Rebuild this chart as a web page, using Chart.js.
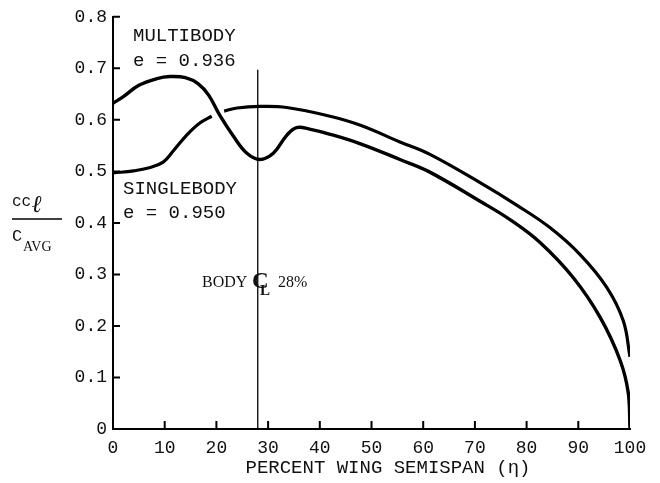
<!DOCTYPE html>
<html>
<head>
<meta charset="utf-8">
<script src="https://cdn.jsdelivr.net/npm/chart.js@4.4.1/dist/chart.umd.min.js"></script>
<style>
  html, body { margin: 0; padding: 0; background: #fff; }
  canvas { display: block; }
</style>
</head>
<body>
<canvas id="span" width="660" height="483"></canvas>
<script>
// spanwise loading
var multiX = [0, 2, 5, 8.5, 11, 14, 16.5, 18.5, 20.7, 23.3, 25.9, 28.4, 31, 33.6, 35.5, 38, 42, 48, 55.5, 61, 71, 77, 82.6, 89, 94.2, 98.1, 99.7, 100];
var multiY = [0.632, 0.645, 0.667, 0.680, 0.684, 0.682, 0.670, 0.648, 0.608, 0.568, 0.535, 0.523, 0.535, 0.570, 0.585, 0.582, 0.572, 0.553, 0.523, 0.500, 0.442, 0.405, 0.362, 0.294, 0.217, 0.133, 0.068, 0];

var singleX = [0, 4, 7, 9.7, 11.6, 14.3, 16.8, 19.1, 20.3, 21.5, 24, 28.4, 33.6, 42, 48, 55.5, 61.3, 71, 78, 84.5, 90.3, 95.5, 98.7, 100];
var singleY = [0.497, 0.501, 0.507, 0.518, 0.539, 0.571, 0.594, 0.607, null, 0.617, 0.623, 0.626, 0.624, 0.607, 0.589, 0.557, 0.533, 0.478, 0.435, 0.391, 0.339, 0.275, 0.210, 0.140];

var bodyX = [28, 28];
var bodyY = [0, 0.697];

var xTicks = [0, 10, 20, 30, 40, 50, 60, 70, 80, 90, 100];
var yTicks = [0, 0.1, 0.2, 0.3, 0.4, 0.5, 0.6, 0.7, 0.8];

function pts(xs, ys) {
  return xs.map(function(x, i) { return { x: x, y: ys[i] }; });
}

var MONO = '"Liberation Mono", "DejaVu Sans Mono", monospace';
var SERIF = '"Liberation Serif", "DejaVu Serif", serif';

// inward tick marks + annotations
var extras = {
  id: 'extras',
  afterDraw: function(chart) {
    var ctx = chart.ctx;
    var xs = chart.scales.x, ys = chart.scales.y;
    var left = chart.chartArea.left, bottom = chart.chartArea.bottom;
    ctx.save();
    ctx.strokeStyle = '#000';
    ctx.lineWidth = 2;
    ctx.beginPath();
    xTicks.forEach(function(v) {
      if (v === 0 || v === 100) return;
      var px = xs.getPixelForValue(v);
      ctx.moveTo(px, bottom);
      ctx.lineTo(px, bottom - 8);
    });
    yTicks.forEach(function(v) {
      if (v === 0) return;
      var py = ys.getPixelForValue(v);
      ctx.moveTo(left, py);
      ctx.lineTo(left + 7, py);
    });
    ctx.stroke();

    ctx.fillStyle = '#111';
    ctx.textBaseline = 'middle';
    ctx.textAlign = 'left';
    ctx.font = '19px ' + MONO;
    ctx.fillText('MULTIBODY', 133, 36);
    ctx.fillText('e = 0.936', 133, 61);
    ctx.fillText('SINGLEBODY', 123, 189);
    ctx.fillText('e = 0.950', 123, 213);

    ctx.font = '16px ' + SERIF;
    ctx.fillText('BODY', 202, 283);
    ctx.fillText('28%', 278, 283);
    // centre-line mark drawn as C over L
    ctx.font = 'bold 23px ' + SERIF;
    ctx.fillText('C', 252, 282);
    ctx.font = 'bold 15px ' + SERIF;
    ctx.fillText('L', 260, 291);

    // y-axis title  cc_l / C_AVG
    ctx.textBaseline = 'alphabetic';
    ctx.font = '16px ' + MONO;
    ctx.fillText('cc', 12, 206);
    ctx.font = 'italic bold 24px ' + SERIF;
    ctx.fillText('\u2113', 32, 212);
    ctx.font = '17px ' + MONO;
    ctx.fillText('C', 12, 241);
    ctx.font = '14px ' + SERIF;
    ctx.fillText('AVG', 23, 251);
    ctx.lineWidth = 1.5;
    ctx.beginPath();
    ctx.moveTo(12, 219);
    ctx.lineTo(62, 219);
    ctx.stroke();

    // x-axis title
    ctx.textAlign = 'center';
    ctx.textBaseline = 'middle';
    ctx.font = '19px ' + MONO;
    ctx.fillText('PERCENT WING SEMISPAN (\u03b7)', 388, 468);
    ctx.restore();
  }
};

new Chart(document.getElementById('span'), {
  type: 'line',
  data: {
    datasets: [
      {
        label: 'MULTIBODY',
        data: pts(multiX, multiY),
        borderColor: '#000',
        borderWidth: 3.4,
        pointRadius: 0,
        tension: 0.4,
        fill: false
      },
      {
        label: 'SINGLEBODY',
        data: pts(singleX, singleY),
        borderColor: '#000',
        borderWidth: 3.2,
        pointRadius: 0,
        spanGaps: false,
        tension: 0.4,
        fill: false
      },
      {
        label: 'BODY CL',
        data: pts(bodyX, bodyY),
        borderColor: '#000',
        borderWidth: 1.3,
        pointRadius: 0,
        fill: false
      }
    ]
  },
  options: {
    responsive: false,
    animation: false,
    devicePixelRatio: 1,
    layout: { padding: { top: 15, right: 30, left: 0, bottom: 0 } },
    plugins: { legend: { display: false }, tooltip: { enabled: false } },
    scales: {
      x: {
        type: 'linear',
        min: 0,
        max: 100,
        afterBuildTicks: function(s) { s.ticks = xTicks.map(function(v) { return { value: v }; }); },
        afterFit: function(s) { s.height = 54; },
        ticks: { color: '#111', padding: 8, maxRotation: 0, autoSkip: false, font: { family: MONO, size: 18 } },
        grid: { display: true, drawOnChartArea: false, drawTicks: false },
        border: { display: true, color: '#000', width: 2 }
      },
      y: {
        min: 0,
        max: 0.8,
        afterBuildTicks: function(s) { s.ticks = yTicks.map(function(v) { return { value: v }; }); },
        afterFit: function(s) { s.width = 113; },
        ticks: {
          color: '#111',
          padding: 6,
          autoSkip: false,
          font: { family: MONO, size: 18 },
          callback: function(v) { return v === 0 ? '0' : v.toFixed(1); }
        },
        grid: { display: true, drawOnChartArea: false, drawTicks: false },
        border: { display: true, color: '#000', width: 2 }
      }
    }
  },
  plugins: [extras]
});
</script>
</body>
</html>
